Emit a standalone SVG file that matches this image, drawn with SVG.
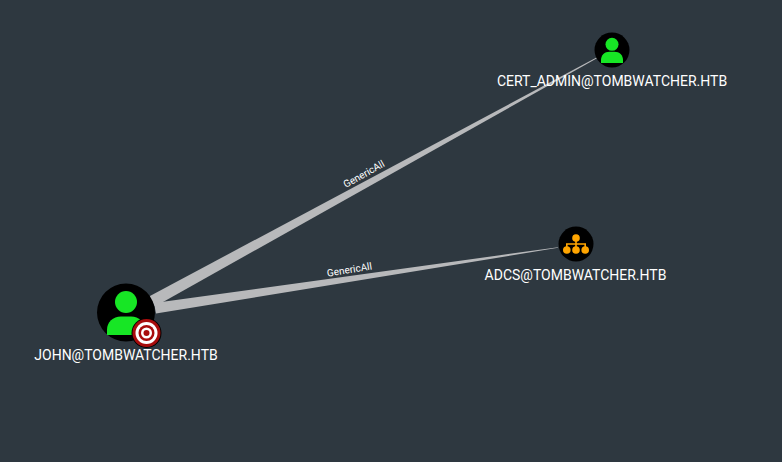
<svg xmlns="http://www.w3.org/2000/svg" width="782" height="462" viewBox="0 0 782 462">
<style>
.lbl{font-family:Roboto,"Liberation Sans",sans-serif;font-size:14px;fill:#fff;text-anchor:middle}
.edge-lbl{font-family:Roboto,"Liberation Sans",sans-serif;font-size:10px;fill:#fff;text-anchor:middle}
.edge{fill:#b8b9bb}
.disc{fill:#000}
.user{fill:#17e625}
.group{fill:#ffa500}
</style>
<rect width="782" height="462" fill="#2e3840"/>
<g id="connectors">
<polygon class="edge" points="149,296.500 155,306.500 597,58.300 596.500,57.500"/>
<polygon class="edge" points="154,303 156,313.500 558,247.800 558,247.200"/>
<text class="edge-lbl" transform="translate(365.500,177) rotate(-29.3)">GenericAll</text>
<text class="edge-lbl" transform="translate(350,273) rotate(-9.300)">GenericAll</text>
</g>
<g id="node-john">
<circle class="disc" cx="126" cy="312.500" r="29"/>
<circle class="user" cx="126" cy="302" r="11"/>
<path class="user" d="M107 335v-5c0-8 6-13.500 14-13.500h10c8 0 14 5.500 14 13.500v5z"/>
<circle cx="146.500" cy="333" r="15" fill="#000"/>
<circle cx="146.500" cy="333" r="14" fill="#a80c0c"/>
<circle cx="146.500" cy="333" r="11" fill="#fff"/>
<circle cx="146.500" cy="333" r="8" fill="#a80c0c"/>
<circle cx="146.500" cy="333" r="5.500" fill="#fff"/>
<circle cx="146.500" cy="333" r="3" fill="#a80c0c"/>
<text class="lbl" x="126" y="360">JOHN@TOMBWATCHER.HTB</text>
</g>
<g id="node-cert-admin">
<circle class="disc" cx="612" cy="50" r="17.500"/>
<circle class="user" cx="612" cy="44.300" r="6.500"/>
<path class="user" d="M601 63v-3c0-5 3.500-8.300 8.500-8.300h5c5 0 8.500 3.300 8.500 8.300v3z"/>
<text class="lbl" x="612" y="86">CERT_ADMIN@TOMBWATCHER.HTB</text>
</g>
<g id="node-adcs">
<circle class="disc" cx="576" cy="244" r="17.500"/>
<g class="group">
<circle cx="576" cy="238" r="3.800"/>
<circle cx="566.800" cy="250" r="3.800"/>
<circle cx="576" cy="250" r="3.800"/>
<circle cx="585.200" cy="250" r="3.800"/>
<path d="M575.200 240h1.600v3.200h9.200v3.800h-1.600v-2.200h-7.600v2.200h-1.600v-2.200h-7.600v2.200h-1.600v-3.800h9.200z"/>
</g>
<text class="lbl" x="575.500" y="280">ADCS@TOMBWATCHER.HTB</text>
</g>
</svg>
